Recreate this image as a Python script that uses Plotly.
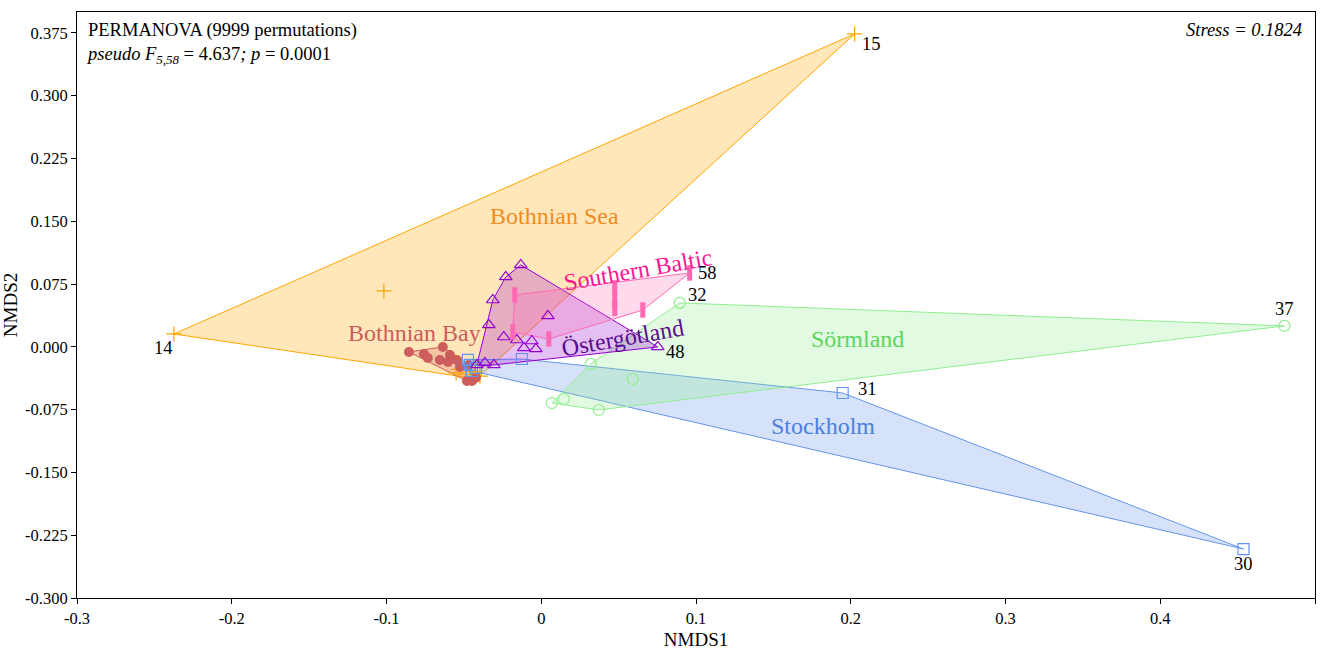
import plotly.graph_objects as go

# NMDS ordination scores per region (NMDS1, NMDS2)
bothnian_sea_x = [-0.2374, 0.2025, -0.1017, -0.053, -0.055, -0.049, -0.046, -0.043, -0.0396]
bothnian_sea_y = [0.0154, 0.3738, 0.0668, -0.027, -0.031, -0.033, -0.037, -0.030, -0.035]

bothnian_bay_x = [-0.0855, -0.0758, -0.0733, -0.0636, -0.0655, -0.059, -0.0603, -0.0545,
                  -0.0525, -0.048, -0.0448, -0.0422, -0.047]
bothnian_bay_y = [-0.0061, -0.0085, -0.0133, -0.0001, -0.0157, -0.0097, -0.018, -0.0157,
                  -0.024, -0.0408, -0.0408, -0.037, -0.0216]

stockholm_x = [0.4538, 0.1948, -0.0125, -0.0474, -0.0461, -0.0448, -0.0422]
stockholm_y = [-0.2415, -0.0551, -0.0145, -0.0156, -0.0216, -0.0287, -0.0251]

sormland_x = [0.0895, 0.4803, 0.032, 0.0591, 0.0146, 0.0068, 0.0372]
sormland_y = [0.0525, 0.0250, -0.0204, -0.0384, -0.0623, -0.0671, -0.0754]

ostergotland_x = [-0.0132, -0.0229, -0.0313, -0.0339, -0.0242, 0.0043, -0.0158, -0.0112,
                  -0.0061, -0.0035, -0.0416, -0.0364, -0.0306, 0.0753]
ostergotland_y = [0.0979, 0.0835, 0.056, 0.0262, 0.0118, 0.0369, 0.0082, -0.0013,
                  0.0070, -0.0025, -0.0216, -0.0192, -0.0216, -0.0001]

southern_baltic_x = [-0.0171, -0.0184, 0.0049, 0.0475, 0.0475, 0.0475, 0.0656, 0.0959]
southern_baltic_y = [0.062, 0.0178, 0.0094, 0.0704, 0.056, 0.046, 0.044, 0.0883]

# Numbered sites
site_ids = ["14", "15", "58", "32", "37", "48", "31", "30"]
site_x = [-0.2374, 0.2025, 0.0959, 0.0895, 0.4803, 0.0753, 0.1948, 0.4538]
site_y = [0.0154, 0.3738, 0.0883, 0.0525, 0.0250, -0.0001, -0.0551, -0.2415]

x_ticks = [-0.3, -0.2, -0.1, 0.0, 0.1, 0.2, 0.3, 0.4, 0.5]
x_ticktext = ["-0.3", "-0.2", "-0.1", "0", "0.1", "0.2", "0.3", "0.4", "0.5"]
y_ticks = [-0.3, -0.225, -0.15, -0.075, 0.0, 0.075, 0.15, 0.225, 0.3, 0.375]
y_ticktext = ["-0.300", "-0.225", "-0.150", "-0.075", "0.000", "0.075", "0.150",
              "0.225", "0.300", "0.375"]


def convex_hull(xs, ys):
    pts = sorted(set(zip(xs, ys)))
    if len(pts) < 3:
        return pts

    def cross(o, a, b):
        return (a[0] - o[0]) * (b[1] - o[1]) - (a[1] - o[1]) * (b[0] - o[0])

    lower, upper = [], []
    for p in pts:
        while len(lower) >= 2 and cross(lower[-2], lower[-1], p) <= 0:
            lower.pop()
        lower.append(p)
    for p in reversed(pts):
        while len(upper) >= 2 and cross(upper[-2], upper[-1], p) <= 0:
            upper.pop()
        upper.append(p)
    return lower[:-1] + upper[:-1]


FONT = "Times New Roman, Liberation Serif, serif"

groups = [
    # name, xs, ys, line colour, fill, marker symbol, solid marker, label colour, label pos, angle
    ("Bothnian Sea", bothnian_sea_x, bothnian_sea_y, "#FFA500", "rgba(255,165,0,0.27)",
     "cross-thin-open", False, "#F28C1E", (0.0087, 0.1564), 0),
    ("Bothnian Bay", bothnian_bay_x, bothnian_bay_y, "#CD5C5C", "rgba(205,92,92,0.25)",
     "circle", True, "#CD5C5C", (-0.0817, 0.0166), 0),
    ("Stockholm", stockholm_x, stockholm_y, "#6495ED", "rgba(100,149,237,0.27)",
     "square-open", False, "#4A7FE0", (0.1819, -0.0945), 0),
    ("Sörmland", sormland_x, sormland_y, "#90EE90", "rgba(144,238,144,0.27)",
     "circle-open", False, "#5CD65C", (0.2045, 0.0094), 0),
    ("Östergötland", ostergotland_x, ostergotland_y, "#9400D3", "rgba(148,0,211,0.25)",
     "triangle-up-open", False, "#5A0A8C", (0.0527, 0.0106), -10),
    ("Southern Baltic", southern_baltic_x, southern_baltic_y, "#FF69B4", "rgba(255,105,180,0.25)",
     "line-ns-open", False, "#FF1493", (0.0624, 0.0919), -10),
]

fig = go.Figure()

for name, xs, ys, lc, fc, sym, solid, _, _, _ in groups:
    hull = convex_hull(xs, ys)
    hx = [p[0] for p in hull] + [hull[0][0]]
    hy = [p[1] for p in hull] + [hull[0][1]]
    fig.add_trace(go.Scatter(x=hx, y=hy, mode="lines", fill="toself", fillcolor=fc,
                             line=dict(color=lc, width=1), hoverinfo="skip",
                             showlegend=False))

for name, xs, ys, lc, fc, sym, solid, _, _, _ in groups:
    if sym == "line-ns-open":
        marker = dict(symbol=sym, size=11, color=lc, line=dict(color=lc, width=5))
    elif solid:
        marker = dict(symbol=sym, size=10, color=lc, line=dict(width=0))
    else:
        marker = dict(symbol=sym, size=11, color=lc, line=dict(color=lc, width=1.2))
    fig.add_trace(go.Scatter(x=xs, y=ys, mode="markers", marker=marker, name=name,
                             showlegend=False))

annotations = []
for name, xs, ys, lc, fc, sym, solid, tc, pos, ang in groups:
    annotations.append(dict(x=pos[0], y=pos[1], xref="x", yref="y", text=name,
                            showarrow=False, textangle=ang,
                            font=dict(family=FONT, size=24, color=tc)))

site_shift = {"14": (-10, -14), "15": (17, -10), "58": (18, 0), "32": (18, 8),
              "37": (0, 17), "48": (18, -5), "31": (25, 4), "30": (0, -15)}
for sid, sx, sy in zip(site_ids, site_x, site_y):
    dx, dy = site_shift[sid]
    annotations.append(dict(x=sx, y=sy, xref="x", yref="y", text=sid, showarrow=False,
                            xshift=dx, yshift=dy,
                            font=dict(family=FONT, size=18.5, color="black")))

annotations.append(dict(x=0.006, y=0.99, xref="paper", yref="paper", xanchor="left",
                        yanchor="top", align="left", showarrow=False,
                        text="PERMANOVA (9999 permutations)<br>"
                             "<i>pseudo F<sub>5,58</sub></i> = 4.637<i>;</i> <i>p</i> = 0.0001",
                        font=dict(family=FONT, size=18.5, color="black")))
annotations.append(dict(x=0.991, y=0.99, xref="paper", yref="paper", xanchor="right",
                        yanchor="top", showarrow=False,
                        text="<i>Stress = 0.1824</i>",
                        font=dict(family=FONT, size=18.5, color="black")))

fig.update_layout(
    width=1322, height=650,
    margin=dict(l=77, r=7, t=12, b=52),
    plot_bgcolor="white", paper_bgcolor="white",
    annotations=annotations,
    font=dict(family=FONT, size=16.5, color="black"),
    xaxis=dict(range=[-0.3, 0.5], tickvals=x_ticks, ticktext=x_ticktext,
               showgrid=False, zeroline=False, showline=True, linecolor="black",
               linewidth=1, mirror=True, ticks="outside", ticklen=5, tickcolor="black",
               tickfont=dict(family=FONT, size=16.5), automargin=False,
               title=dict(text="NMDS1", font=dict(family=FONT, size=19), standoff=12)),
    yaxis=dict(range=[-0.3, 0.4], tickvals=y_ticks, ticktext=y_ticktext,
               showgrid=False, zeroline=False, showline=True, linecolor="black",
               linewidth=1, mirror=True, ticks="outside", ticklen=5, tickcolor="black",
               tickfont=dict(family=FONT, size=16.5), automargin=False,
               title=dict(text="NMDS2", font=dict(family=FONT, size=19), standoff=6)),
)

fig.write_html("out.html")
